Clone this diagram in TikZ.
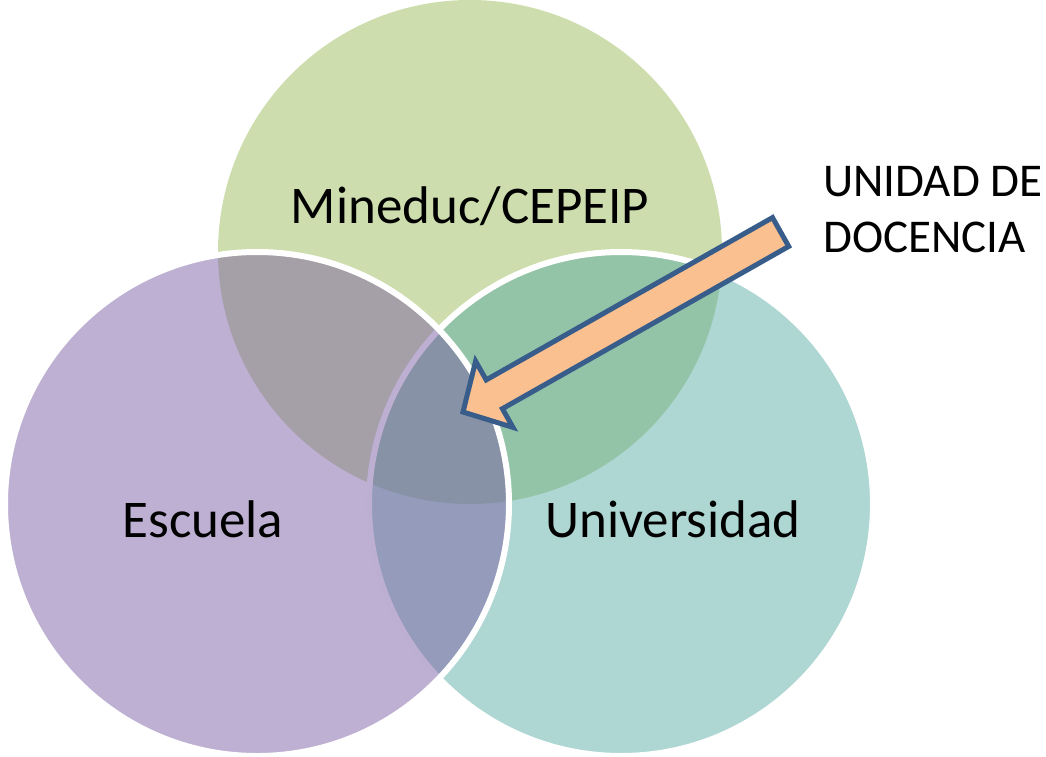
\documentclass[tikz,border=0pt]{standalone}
\usepackage{fontspec}
\setmainfont{Carlito}
\definecolor{cgreen}{RGB}{155,187,91}
\definecolor{cpurple}{RGB}{125,97,165}
\definecolor{cteal}{RGB}{93,173,165}
\definecolor{afill}{RGB}{250,192,144}
\definecolor{aline}{RGB}{56,93,138}
\tikzset{
  venn/.style={fill opacity=0.5, draw opacity=1},
  biglabel/.style={anchor=base, inner sep=0pt, font=\fontsize{53}{64}\selectfont},
  sidelabel/.style={anchor=base west, inner sep=0pt, align=left, font=\fontsize{47}{56}\selectfont}
}
\begin{document}
\begin{tikzpicture}[x=1pt,y=-1pt]
\useasboundingbox (0,0) rectangle (1046,756);
\fill[venn, cgreen] (470,252) circle[radius=252pt];
\draw[venn, fill=cteal, draw=white, line width=6pt] (621,504) circle[radius=252pt];
\draw[venn, fill=cpurple, draw=white, line width=6pt] (257,504) circle[radius=252pt];
\node[biglabel] (top) at (470,223) {Mineduc/CEPEIP};
\node[biglabel] (left) at (203,537) {Escuela};
\node[biglabel] (right) at (673,537) {Universidad};
\node[sidelabel] (unit) at (823,252) {UNIDAD DE\\DOCENCIA};
\draw[fill=afill, draw=aline, line width=5pt, line join=miter]
  (788.7,246.4) -- (502.4,408.7) -- (513,427.4) -- (463,412) -- (475.6,361.2) -- (486.2,379.9) -- (772.5,217.6) -- cycle;
\end{tikzpicture}
\end{document}
